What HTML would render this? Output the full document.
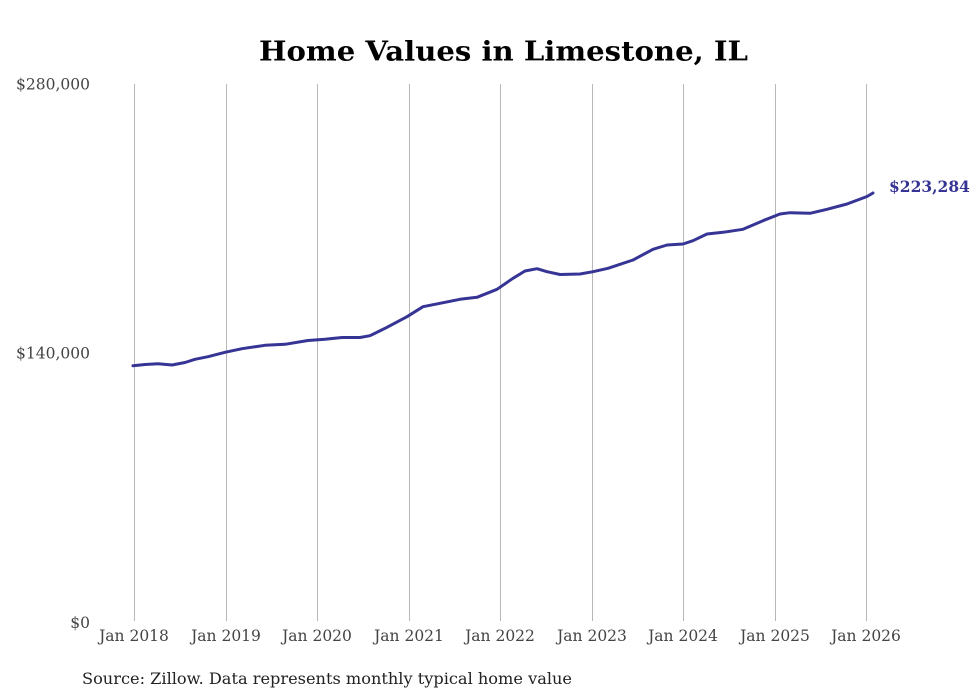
<!DOCTYPE html>
<html>
<head>
<meta charset="utf-8">
<style>
  html, body { margin: 0; padding: 0; background: #ffffff; }
  svg { display: block; }
  text { font-family: "DejaVu Serif", "Liberation Serif", serif; }
</style>
</head>
<body>
<svg width="980" height="699" viewBox="0 0 980 699" xmlns="http://www.w3.org/2000/svg">
  <rect x="0" y="0" width="980" height="699" fill="#ffffff"/>
  <text x="503.5" y="60.5" text-anchor="middle" font-size="27" font-weight="bold" fill="#000" textLength="489" lengthAdjust="spacingAndGlyphs">Home Values in Limestone, IL</text>

  <!-- gridlines -->
  <g stroke="#b8b8b8" stroke-width="1">
    <line x1="134.5" y1="84" x2="134.5" y2="621"/>
    <line x1="226.5" y1="84" x2="226.5" y2="621"/>
    <line x1="317.5" y1="84" x2="317.5" y2="621"/>
    <line x1="409.5" y1="84" x2="409.5" y2="621"/>
    <line x1="500.5" y1="84" x2="500.5" y2="621"/>
    <line x1="592.5" y1="84" x2="592.5" y2="621"/>
    <line x1="683.5" y1="84" x2="683.5" y2="621"/>
    <line x1="775.5" y1="84" x2="775.5" y2="621"/>
    <line x1="866.5" y1="84" x2="866.5" y2="621"/>
  </g>

  <!-- y labels -->
  <g font-size="15.5" fill="#444" text-anchor="end">
    <text x="90" y="89.5">$280,000</text>
    <text x="90" y="358.5">$140,000</text>
    <text x="90" y="628">$0</text>
  </g>

  <!-- x labels -->
  <g font-size="15.5" fill="#444" text-anchor="middle">
    <text x="134" y="641">Jan 2018</text>
    <text x="226" y="641">Jan 2019</text>
    <text x="317" y="641">Jan 2020</text>
    <text x="409" y="641">Jan 2021</text>
    <text x="500" y="641">Jan 2022</text>
    <text x="592" y="641">Jan 2023</text>
    <text x="683" y="641">Jan 2024</text>
    <text x="775" y="641">Jan 2025</text>
    <text x="866" y="641">Jan 2026</text>
  </g>

  <!-- series -->
  <polyline fill="none" stroke="#363494" stroke-width="3" stroke-linejoin="round" stroke-linecap="round"
    points="133,365.7 145,364.5 158,363.8 172,365 185,362.5 195,359.3 208,356.7 225,352.3 242,348.7 265,345.3 285,344.3 308,340.5 325,339.2 342,337.5 360,337.5 370,335.7 387,327.3 407,316.7 423,306.7 440,303.3 460,299.3 477,297.3 497,289.3 513,278.3 525,271 537,268.7 547,271.7 560,274.5 580,274 593,271.7 608,268.3 633,260 653,249.3 667,245 683,244 693,240.7 707,234 723,232.3 743,229.3 763,220.7 780,214 790,212.7 810,213.3 827,209.3 847,204 867,196.5 873,193"/>

  <text x="889" y="192" font-size="15.5" font-weight="bold" fill="#363494">$223,284</text>

  <text x="82" y="684" font-size="16" fill="#222" textLength="490" lengthAdjust="spacingAndGlyphs">Source: Zillow. Data represents monthly typical home value</text>
</svg>
</body>
</html>
